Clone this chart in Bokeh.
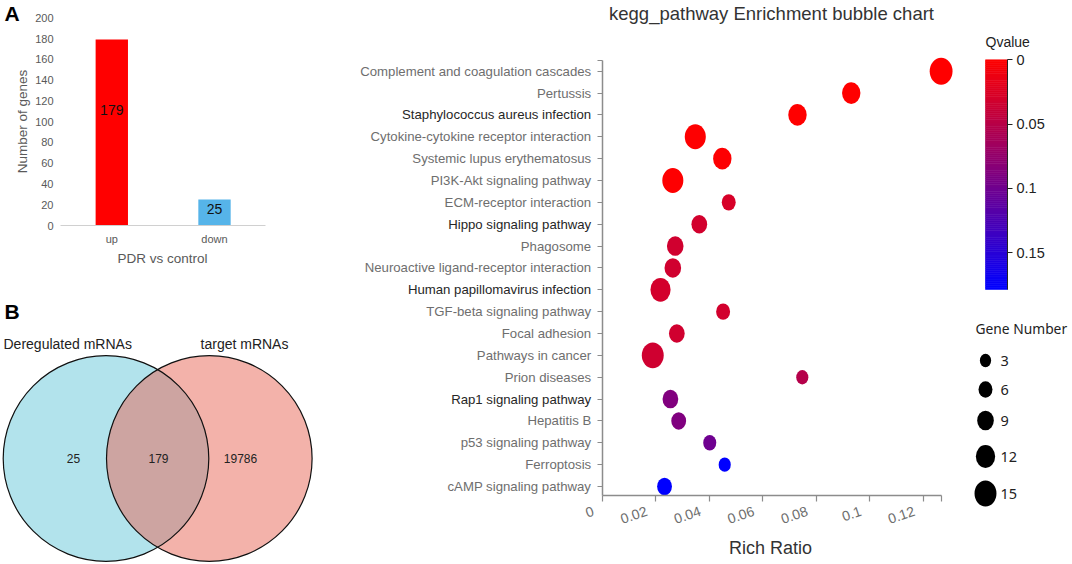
import json
import numpy as np
from bokeh.plotting import figure
from bokeh.models import (ColumnDataSource, Range1d, FixedTicker,
                          CustomJSTickFormatter, LinearAxis)
from bokeh.transform import linear_cmap
from bokeh.core.properties import value
from bokeh.embed import file_html
from bokeh.resources import INLINE

SANS = "Liberation Sans"
UI = "Noto Sans"

# ---------------- data ----------------
# Panel A
bar_groups = ["up", "down"]
bar_counts = [179, 25]
bar_y_ticks = [0, 20, 40, 60, 80, 100, 120, 140, 160, 180, 200]

# Panel B
venn_names = ["Deregulated mRNAs", "target mRNAs"]
venn_counts = [25, 179, 19786]  # left only, shared, right only

# Panel C
pathways = [
    "Complement and coagulation cascades",
    "Pertussis",
    "Staphylococcus aureus infection",
    "Cytokine-cytokine receptor interaction",
    "Systemic lupus erythematosus",
    "PI3K-Akt signaling pathway",
    "ECM-receptor interaction",
    "Hippo signaling pathway",
    "Phagosome",
    "Neuroactive ligand-receptor interaction",
    "Human papillomavirus infection",
    "TGF-beta signaling pathway",
    "Focal adhesion",
    "Pathways in cancer",
    "Prion diseases",
    "Rap1 signaling pathway",
    "Hepatitis B",
    "p53 signaling pathway",
    "Ferroptosis",
    "cAMP signaling pathway",
]
rich_ratio = [0.1267, 0.0931, 0.0730, 0.0348, 0.0449, 0.0264, 0.0473, 0.0363,
              0.0273, 0.0264, 0.0218, 0.0452, 0.0279, 0.0189, 0.0748, 0.0255,
              0.0286, 0.0402, 0.0458, 0.0233]
gene_number = [16, 11, 11, 14, 11, 14, 6, 8, 9, 9, 13, 6, 8, 15, 4, 8, 7, 5, 4, 7]
qvalue = [0.0, 0.0, 0.0, 0.001, 0.002, 0.001, 0.028, 0.032, 0.033, 0.033,
          0.031, 0.032, 0.033, 0.034, 0.052, 0.088, 0.089, 0.101, 0.1786, 0.1786]
rich_ticks = [0, 0.02, 0.04, 0.06, 0.08, 0.1, 0.12]
rich_max = 0.1268
q_ticks = [0, 0.05, 0.1, 0.15]
q_max = 0.1786
legend_genes = [3, 6, 9, 12, 15]

# ---------------- styles / layout (page pixels) ----------------
W, H = 1072, 564
X0, Y0 = 0, 0
bar_colors = ["#ff0000", "#56b4e9"]
dark_labels = {"Staphylococcus aureus infection", "Hippo signaling pathway",
               "Human papillomavirus infection", "Rap1 signaling pathway"}
palette = ["#%02x%02x%02x" % (round(255 * (1 - i / 255)), 0, round(255 * i / 255))
           for i in range(256)]
GRAY_AX = "#8c8c8c"


def lin_range(va, pa, vb, pb, p_start, p_end):
    """Range whose values va, vb fall on page pixels pa, pb."""
    k = (pb - pa) / (vb - va)
    return Range1d(start=va + (p_start - pa) / k, end=va + (p_end - pa) / k)


def px_to_val(px, va, pa, vb, pb):
    return va + (px - pa) * (vb - va) / (pb - pa)


def bub_w(n):
    return 8.6 + 0.89 * np.asarray(n, dtype=float)


def bub_h(n):
    return 1.18 * bub_w(n)


def label_fmt(labels):
    return CustomJSTickFormatter(code="const L = %s; const i = Math.round(tick); "
                                      "return (i >= 0 && i < L.length) ? L[i] : '';"
                                      % json.dumps(labels))


num_fmt = CustomJSTickFormatter(code="return String(Math.round(tick*10000)/10000);")
blank_fmt = CustomJSTickFormatter(code="return '';")

p = figure(width=W, height=H, x_range=Range1d(X0, X0 + W), y_range=Range1d(Y0 + H, Y0),
           output_backend="svg", toolbar_location=None, min_border=0,
           x_axis_location=None, y_axis_location=None)
p.outline_line_color = None
p.background_fill_color = "white"
p.border_fill_color = "white"
p.grid.visible = False

n_path = len(pathways)
RX0, RX1 = 601.7, 655.2      # pixels of rich ratio 0 and 0.02
LAB_SHIFT = 9                # rotated tick labels sit left of their ticks
p.extra_x_ranges = {
    "bar_x": lin_range(0, 111.3, 1, 214.0, X0, X0 + W),
    "rich": lin_range(0, RX0, 0.02, RX1, X0, X0 + W),
    "rich_lab": lin_range(0, RX0 - LAB_SHIFT, 0.02, RX1 - LAB_SHIFT, X0, X0 + W),
}
p.extra_y_ranges = {
    "bar_y": lin_range(0, 225.0, 200, 17.3, Y0 + H, Y0),
    "path": lin_range(0, 70.7, n_path - 1, 486.0, Y0 + H, Y0),
    "q": lin_range(0, 59.3, 0.05, 123.6, Y0 + H, Y0),
}

# ---------------- Panel A ----------------
bar_idx = [int(i) for i in range(len(bar_groups))]
src_a = ColumnDataSource(dict(x=bar_idx, n=bar_counts, c=bar_colors,
                              lab=[str(v) for v in bar_counts],
                              ly=[v * 0.62 for v in bar_counts]))
p.vbar(x="x", top="n", bottom=0, width=0.315, fill_color="c", line_color=None,
       source=src_a, x_range_name="bar_x", y_range_name="bar_y")
p.text(x="x", y="ly", text="lab", text_align="center", text_baseline="middle",
       text_font=value(SANS), text_font_size=value("14px"), text_color="#111111",
       source=src_a, x_range_name="bar_x", y_range_name="bar_y")
ya = LinearAxis(y_range_name="bar_y", fixed_location=60, ticker=FixedTicker(ticks=bar_y_ticks),
                axis_line_color=None, major_tick_line_color=None, minor_tick_line_color=None,
                major_tick_out=0, major_tick_in=0, major_label_standoff=7,
                major_label_text_font=SANS, major_label_text_font_size="11px",
                major_label_text_color="#595959")
p.add_layout(ya, "left")
xa = LinearAxis(x_range_name="bar_x", fixed_location=225, bounds=(-0.5, len(bar_groups) - 0.5),
                ticker=FixedTicker(ticks=bar_idx), formatter=label_fmt(bar_groups),
                axis_line_color="#d0d0d0", axis_line_width=1,
                major_tick_line_color=None, minor_tick_line_color=None,
                major_tick_out=0, major_tick_in=0, major_label_standoff=7,
                major_label_text_font=SANS, major_label_text_font_size="11px",
                major_label_text_color="#595959")
p.add_layout(xa, "below")
p.text(x=[22], y=[121], text=["Number of genes"], angle=np.pi / 2, text_align="center",
       text_baseline="middle", text_font=value(SANS), text_font_size=value("13.5px"),
       text_color="#595959")
p.text(x=[162], y=[258], text=["PDR vs control"], text_align="center",
       text_baseline="middle", text_font=value(SANS), text_font_size=value("13.5px"),
       text_color="#595959")
p.text(x=[4], y=[13], text=["A"], text_align="left", text_baseline="middle",
       text_font=value(SANS), text_font_size=value("21px"), text_font_style="bold",
       text_color="#000000")

# ---------------- Panel B (Venn) ----------------
R = 102.8
cx = [105.5, 208.8]
cy = 458.0
p.circle(x=[cx[0]], y=[cy], radius=R, fill_color="#b2e3ec", line_color=None)
p.circle(x=[cx[1]], y=[cy], radius=R, fill_color="#e76555", fill_alpha=0.5, line_color=None)
p.circle(x=cx, y=[cy, cy], radius=R, fill_color=None, line_color="#111111", line_width=1.2)
p.text(x=[4], y=[311], text=["B"], text_align="left", text_baseline="middle",
       text_font=value(SANS), text_font_size=value("21px"), text_font_style="bold",
       text_color="#000000")
p.text(x=[3], y=[343], text=[venn_names[0]], text_align="left", text_baseline="middle",
       text_font=value(SANS), text_font_size=value("14px"), text_color="#222222")
p.text(x=[244], y=[343], text=[venn_names[1]], text_align="center", text_baseline="middle",
       text_font=value(SANS), text_font_size=value("14px"), text_color="#222222")
p.text(x=[73, 158, 240], y=[cy] * 3, text=[str(v) for v in venn_counts],
       text_align="center", text_baseline="middle", text_font=value(SANS),
       text_font_size=value("12px"), text_color="#222222")

# ---------------- Panel C (bubble chart) ----------------
rows = [int(i) for i in range(n_path)]
src_c = ColumnDataSource(dict(x=rich_ratio, y=rows, q=qvalue,
                              w=bub_w(gene_number), h=bub_h(gene_number)))
cmap = linear_cmap("q", palette, low=0, high=q_max)
p.ellipse(x="x", y="y", width="w", height="h", width_units="screen", height_units="screen",
          fill_color=cmap, line_color=None, source=src_c,
          x_range_name="rich", y_range_name="path")

yb0 = px_to_val(60, 0, 70.7, n_path - 1, 486.0)
yb1 = px_to_val(495, 0, 70.7, n_path - 1, 486.0)
gray_lab = ["" if s in dark_labels else s for s in pathways]
dark_lab = [s if s in dark_labels else "" for s in pathways]
common = dict(y_range_name="path", fixed_location=RX0, bounds=(yb0, yb1),
              major_tick_out=5, major_tick_in=0, minor_tick_out=5, minor_tick_in=0,
              major_label_standoff=6, major_label_text_font=SANS,
              major_label_text_font_size="13.2px")
yc1 = LinearAxis(ticker=FixedTicker(ticks=rows, minor_ticks=[yb0]), formatter=label_fmt(gray_lab),
                 axis_line_color=GRAY_AX, axis_line_width=1.5,
                 major_tick_line_color=GRAY_AX, minor_tick_line_color=GRAY_AX,
                 major_tick_line_width=1.2, minor_tick_line_width=1.2,
                 major_label_text_color="#6e6e6e", **common)
yc2 = LinearAxis(ticker=FixedTicker(ticks=rows), formatter=label_fmt(dark_lab),
                 axis_line_color=None, major_tick_line_color=None, minor_tick_line_color=None,
                 major_label_text_color="#262626", **common)
p.add_layout(yc1, "left")
p.add_layout(yc2, "left")
xc = LinearAxis(x_range_name="rich", fixed_location=495, bounds=(0, rich_max),
                ticker=FixedTicker(ticks=rich_ticks, minor_ticks=[rich_max]), formatter=blank_fmt,
                axis_line_color=GRAY_AX, axis_line_width=1.5,
                major_tick_out=6, major_tick_in=0, minor_tick_out=6, minor_tick_in=0,
                major_tick_line_color=GRAY_AX, minor_tick_line_color=GRAY_AX,
                major_tick_line_width=1.2, minor_tick_line_width=1.2)
p.add_layout(xc, "below")
xc_lab = LinearAxis(x_range_name="rich_lab", fixed_location=495, bounds=(0, rich_max),
                    ticker=FixedTicker(ticks=rich_ticks), formatter=num_fmt,
                    axis_line_color=None, major_tick_line_color=None, minor_tick_line_color=None,
                    major_tick_out=6, major_tick_in=0,
                    major_label_orientation=0.33, major_label_standoff=9,
                    major_label_text_font=SANS, major_label_text_font_size="14px",
                    major_label_text_color="#6e6e6e")
p.add_layout(xc_lab, "below")
p.text(x=[771], y=[13], text=["kegg_pathway Enrichment bubble chart"], text_align="center",
       text_baseline="middle", text_font=value(SANS), text_font_size=value("18.5px"),
       text_color="#333333")
p.text(x=[770], y=[547], text=["Rich Ratio"], text_align="center", text_baseline="middle",
       text_font=value(SANS), text_font_size=value("18px"), text_color="#333333")

# ---------------- Colour bar ----------------
steps = np.linspace(0, q_max, 121)
src_cb = ColumnDataSource(dict(b=steps[:-1], t=steps[1:], m=(steps[:-1] + steps[1:]) / 2))
cb_map = linear_cmap("m", palette, low=0, high=q_max)
p.quad(left=985, right=1007, bottom="b", top="t", source=src_cb, fill_color=cb_map,
       line_color=cb_map, line_width=0.6, y_range_name="q")
cba = LinearAxis(y_range_name="q", fixed_location=1007, bounds=(0, q_max),
                 ticker=FixedTicker(ticks=q_ticks), formatter=num_fmt,
                 axis_line_color="#222222", major_tick_line_color="#222222",
                 minor_tick_line_color=None, major_tick_out=5, major_tick_in=0,
                 major_label_standoff=4, major_label_text_font=SANS,
                 major_label_text_font_size="14.5px", major_label_text_color="#222222")
p.add_layout(cba, "right")
p.text(x=[985], y=[41], text=["Qvalue"], text_align="left", text_baseline="middle",
       text_font=value(SANS), text_font_size=value("14px"), text_color="#222222")

# ---------------- Size legend ----------------
leg_y = [360, 389, 420, 456, 493]
src_lg = ColumnDataSource(dict(y=leg_y, w=bub_w(legend_genes), h=bub_h(legend_genes),
                               lab=[str(v) for v in legend_genes]))
p.ellipse(x=985, y="y", width="w", height="h", width_units="screen", height_units="screen",
          fill_color="#000000", line_color=None, source=src_lg)
p.text(x=1000, y="y", text="lab", text_align="left", text_baseline="middle",
       text_font=value(UI), text_font_size=value("14.5px"), text_color="#222222",
       source=src_lg)
p.text(x=[975], y=[328], text=["Gene Number"], text_align="left", text_baseline="middle",
       text_font=value(UI), text_font_size=value("13.8px"), text_color="#222222")

open("out.html", "w").write(file_html(p, INLINE, title="KEGG enrichment"))
